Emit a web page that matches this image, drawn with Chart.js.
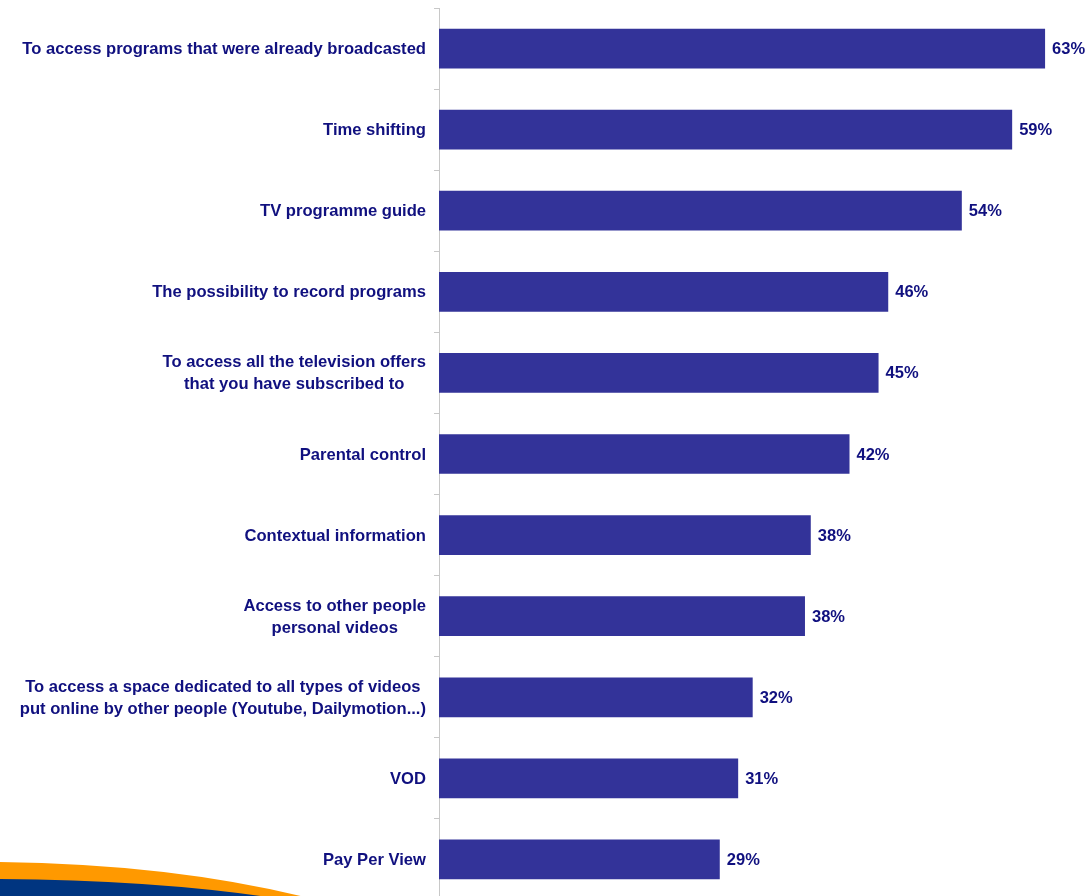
<!DOCTYPE html>
<html>
<head>
<meta charset="utf-8">
<script src="https://cdn.jsdelivr.net/npm/chart.js@4"></script>
<style>
    html, body { margin: 0; padding: 0; background: #fff; overflow: hidden; }
    #wrap { position: relative; width: 1088px; height: 900px; }
</style>
</head>
<body>
<div id="wrap"><canvas id="chart"></canvas></div>
<script>
// Categories (top to bottom) and percentages
const categories = [
    ['To access programs that were already broadcasted'],
    ['Time shifting'],
    ['TV programme guide'],
    ['The possibility to record programs'],
    ['To access all the television offers', 'that you have subscribed to'],
    ['Parental control'],
    ['Contextual information'],
    ['Access to other people ', 'personal videos'],
    ['To access a space dedicated to all types of videos', 'put online by other people (Youtube, Dailymotion...)'],
    ['VOD'],
    ['Pay Per View']
];
const shares = [62.6, 59.2, 54.0, 46.4, 45.4, 42.4, 38.4, 37.8, 32.4, 30.9, 29.0];

const textColor = '#10107f';
const barColor = '#333399';
const labelFont = 'bold 16.6px "Liberation Sans", Arial, sans-serif';
const valueFont = 'bold 16.5px "Liberation Sans", Arial, sans-serif';

// orange / blue swoosh in the bottom left corner
const swoosh = {
    id: 'swoosh',
    beforeDraw(chart) {
        const ctx = chart.ctx;
        ctx.save();
        ctx.fillStyle = '#ff9900';
        ctx.beginPath();
        ctx.moveTo(0, 862);
        ctx.quadraticCurveTo(170, 864, 305, 897);
        ctx.lineTo(0, 897);
        ctx.closePath();
        ctx.fill();
        ctx.fillStyle = '#003580';
        ctx.beginPath();
        ctx.moveTo(0, 879);
        ctx.quadraticCurveTo(150, 880, 268, 897);
        ctx.lineTo(0, 897);
        ctx.closePath();
        ctx.fill();
        ctx.restore();
    }
};

// category labels (centered lines, block right-aligned) and value labels
const labelsPlugin = {
    id: 'labelsPlugin',
    afterDraw(chart) {
        const ctx = chart.ctx;
        const yScale = chart.scales.y;
        const meta = chart.getDatasetMeta(0);
        ctx.save();
        ctx.font = labelFont;
        ctx.fillStyle = textColor;
        ctx.textBaseline = 'middle';
        ctx.textAlign = 'center';
        const rightEdge = chart.chartArea.left - 13;
        const lineH = 22;
        categories.forEach((lines, i) => {
            const yc = yScale.getPixelForValue(i) + 1;
            const maxW = Math.max(...lines.map(l => ctx.measureText(l.trim()).width));
            const cx = rightEdge - maxW / 2;
            lines.forEach((l, j) => {
                const y = yc + (j - (lines.length - 1) / 2) * lineH;
                ctx.fillText(l.trim(), cx, y);
            });
        });
        ctx.font = valueFont;
        ctx.textAlign = 'left';
        meta.data.forEach((bar, i) => {
            ctx.fillText(Math.round(shares[i]) + '%', bar.x + 7, bar.y + 1);
        });
        ctx.restore();
    }
};

new Chart(document.getElementById('chart'), {
    type: 'bar',
    data: {
        labels: categories,
        datasets: [{
            data: shares,
            backgroundColor: barColor,
            borderWidth: 0,
            barPercentage: 0.49,
            categoryPercentage: 1.0
        }]
    },
    options: {
        indexAxis: 'y',
        responsive: true,
        maintainAspectRatio: false,
        animation: false,
        layout: { padding: { top: 8, right: 10, bottom: 0, left: 0 } },
        plugins: {
            legend: { display: false },
            tooltip: { enabled: false }
        },
        scales: {
            x: {
                display: false,
                min: 0,
                max: 66
            },
            y: {
                afterFit: scale => { scale.width = 439; },
                ticks: { display: false },
                grid: {
                    offset: true,
                    drawOnChartArea: false,
                    drawTicks: true,
                    tickLength: 5,
                    color: '#c8c8c8'
                },
                border: { display: true, color: '#c8c8c8', width: 1 }
            }
        }
    },
    plugins: [swoosh, labelsPlugin]
});
</script>
</body>
</html>
